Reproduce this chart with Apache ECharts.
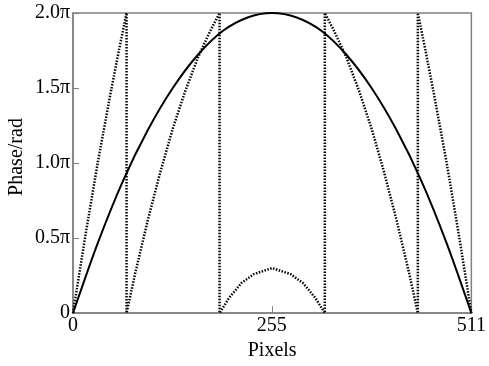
<!DOCTYPE html>
<html>
<head>
<meta charset="utf-8">
<script src="https://cdn.jsdelivr.net/npm/echarts@6/dist/echarts.min.js"></script>
<style>
  html, body { margin: 0; padding: 0; background: #fff; }
  #phase-chart { width: 489px; height: 366px; }
</style>
</head>
<body>
<div id="phase-chart"></div>
<script>
// pixel positions and phase values (in units of pi)
const unwrappedX = [0, 32, 64, 96, 128, 160, 192, 224, 255, 287, 319, 351, 383, 415, 447, 479, 511];
const unwrappedPhase = [0, 0.47, 0.88, 1.22, 1.50, 1.72, 1.88, 1.97, 2.00, 1.97, 1.88, 1.72, 1.50, 1.22, 0.88, 0.47, 0];

const wrappedX = [0, 16, 32, 48, 60, 68.7, 68.7, 80, 96, 112, 128, 144, 160, 176, 188, 188, 200, 216, 232, 255.5,
  279, 295, 311, 323, 323, 335, 351, 367, 383, 399, 415, 431, 442.3, 442.3, 451, 463, 479, 495, 511];
const wrappedPhase = [0, 0.52, 1.01, 1.46, 1.78, 2.0, 0, 0.27, 0.62, 0.94, 1.23, 1.48, 1.70, 1.88, 2.0, 0, 0.10, 0.20, 0.26, 0.30,
  0.26, 0.20, 0.10, 0, 2.0, 1.88, 1.70, 1.48, 1.23, 0.94, 0.62, 0.27, 0, 2.0, 1.78, 1.46, 1.01, 0.52, 0];

const xTicks = [0, 255, 511];

const phaseChart = echarts.init(document.getElementById('phase-chart'));
const labelFont = { fontFamily: 'Liberation Serif', fontSize: 20, color: '#000' };

const option = {
  animation: false,
  grid: {
    left: 73,
    right: 7,
    top: 13,
    bottom: 45,
    show: true,
    borderColor: '#808080',
    borderWidth: 1.5
  },
  xAxis: {
    type: 'value',
    min: 0,
    max: 511,
    name: 'Pixels',
    nameLocation: 'middle',
    nameGap: 26,
    nameTextStyle: labelFont,
    axisLine: { lineStyle: { color: '#808080', width: 1.5 } },
    axisTick: { show: true, inside: true, length: 7, customValues: xTicks, lineStyle: { color: '#808080' } },
    axisLabel: Object.assign({ customValues: xTicks, margin: 3 }, labelFont),
    splitLine: { show: false }
  },
  yAxis: {
    type: 'value',
    min: 0,
    max: 2,
    interval: 0.5,
    axisLine: { show: true, lineStyle: { color: '#808080', width: 1.5 } },
    axisTick: { show: true, inside: true, length: 6, lineStyle: { color: '#808080' } },
    axisLabel: Object.assign({
      margin: 3,
      formatter: v => v === 0 ? '0' : v.toFixed(1) + 'π'
    }, labelFont),
    splitLine: { show: false }
  },
  graphic: [{
    type: 'text',
    x: 17,
    y: 157,
    rotation: Math.PI / 2,
    style: {
      text: 'Phase/rad',
      font: '20px "Liberation Serif"',
      fill: '#000',
      align: 'center',
      verticalAlign: 'middle'
    }
  }],
  series: [{
    name: 'unwrapped',
    type: 'line',
    data: unwrappedX.map((x, i) => [x, unwrappedPhase[i]]),
    showSymbol: false,
    smooth: 0.3,
    lineStyle: { color: '#000', width: 2 }
  }, {
    name: 'wrapped',
    type: 'line',
    data: wrappedX.map((x, i) => [x, wrappedPhase[i]]),
    showSymbol: false,
    lineStyle: { color: '#000', width: 2.5, type: [1.5, 1.5] }
  }]
};

phaseChart.setOption(option);
</script>
</body>
</html>
